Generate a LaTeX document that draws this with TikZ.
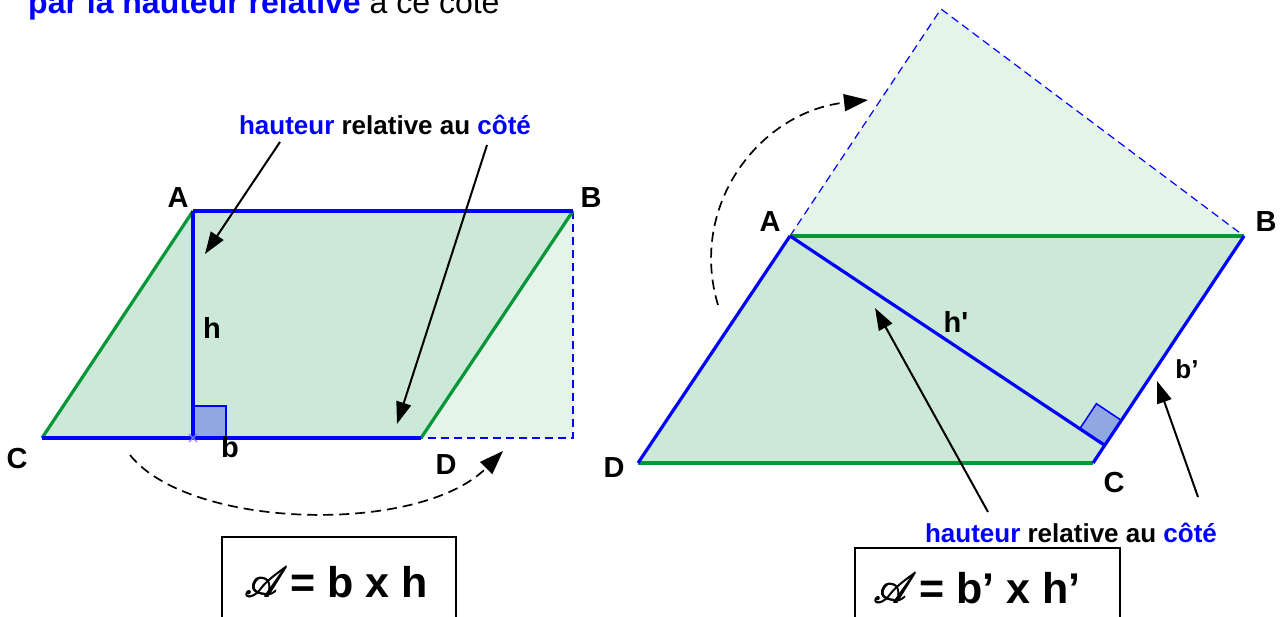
\documentclass[tikz,border=0pt]{standalone}
\usepackage{fontspec}
\setmainfont{Liberation Sans}
\usepackage{mathrsfs}
\usetikzlibrary{arrows.meta,calc}
\definecolor{pblue}{RGB}{0,0,255}
\definecolor{pgreen}{RGB}{5,150,55}
\definecolor{fillmid}{RGB}{204,232,215}
\definecolor{filllight}{RGB}{228,244,233}
\definecolor{sqfill}{RGB}{145,167,226}
\definecolor{xmark}{RGB}{130,130,255}
\newcommand{\scrA}{\scalebox{1.7}{\rlap{$\mathscr{A}$}\raisebox{0.25pt}{\rlap{$\mathscr{A}$}}\kern0.3pt\rlap{$\mathscr{A}$}\raisebox{0.25pt}{$\mathscr{A}$}}}
\tikzset{
 lab/.style={font=\fontsize{29}{34}\selectfont\bfseries, anchor=base, inner sep=0pt},
 hrtext/.style={font=\fontsize{26}{30}\selectfont\bfseries, anchor=base, inner sep=0pt},
 bluethick/.style={draw=pblue, line width=3.2pt},
 greenthick/.style={draw=pgreen, line width=3.2pt},
 dashblue/.style={draw=pblue, line width=1.2pt, dash pattern=on 8pt off 5pt},
 pointer/.style={draw=black, line width=2pt, -{Triangle[length=22pt,width=15pt]}},
 curvearrow/.style={draw=black, line width=1.7pt, dash pattern=on 10pt off 6pt, -{Triangle[length=24pt,width=17pt]}},
 formbox/.style={draw=black, line width=1.5pt},
 formula/.style={font=\fontsize{43}{50}\selectfont\bfseries, anchor=base west, inner sep=0pt},
 sq/.style={fill=sqfill, draw=pblue, line width=1.5pt},
}
\begin{document}
\begin{tikzpicture}[x=1pt,y=-1pt]
\useasboundingbox (0,0) rectangle (1286,617);
\fill[white] (0,0) rectangle (1286,617);

% top text (cut at the top edge, as in the reference)
\node[anchor=base west, inner sep=0pt, font=\fontsize{32}{36}\selectfont] (toptext) at (28,14)
  {\textcolor{pblue}{\bfseries par la hauteur relative} à ce côté};

% ---------- left figure ----------
\coordinate (lA) at (193,211);
\coordinate (lB) at (573,211);
\coordinate (lC) at (42,438);
\coordinate (lD) at (421,438);
\coordinate (lE) at (573,438);
\coordinate (lH) at (193,438);

\fill[filllight] (lB) -- (lE) -- (lD) -- cycle;
\fill[fillmid] (lA) -- (lB) -- (lD) -- (lC) -- cycle;
\draw[sq] (193,406) rectangle (226,438);
\draw[dashblue] (lB) -- (lE) -- (lD);
\draw[greenthick] (lC) -- (lA);
\draw[greenthick] (lD) -- (lB);
\draw[bluethick] (lA) -- (lB);
\draw[bluethick] (lC) -- (lD);
\draw[bluethick] (lA) -- (lH);
\draw[xmark, line width=1.2pt] (189,434) -- (197,442) (189,442) -- (197,434);

\node[lab] (labA) at (178,208) {A};
\node[lab] (labB) at (591,208) {B};
\node[lab] (labC) at (17,469) {C};
\node[lab] (labD) at (446,475) {D};
\node[lab] (labh) at (212,339) {h};
\node[lab] (labb) at (230,458) {b};

\node[hrtext] (hr1) at (385,135)
  {\textcolor{pblue}{hauteur} relative au \textcolor{pblue}{côté}};
\coordinate (p1s) at (280,142);
\coordinate (p1e) at (205,254);
\coordinate (p2s) at (487,145);
\coordinate (p2e) at (397,424);
\draw[pointer] (p1s) -- (p1e);
\draw[pointer] (p2s) -- (p2e);

\coordinate (c1s) at (130,455);
\coordinate (c1e) at (503,451);
\draw[curvearrow] (c1s) .. controls (190,530) and (420,535) .. (c1e);

\draw[formbox] (222,537) rectangle (456,625);
\node[formula] (f1) at (244,597) {\scrA\kern2pt= b x h};

% ---------- right figure ----------
\coordinate (rA) at (790,236);
\coordinate (rB) at (1244,236);
\coordinate (rC) at (1093,463);
\coordinate (rD) at (638,463);
\coordinate (rT) at ($(rA)+(rB)-(rC)$);
\coordinate (rH) at ($(rB)!(rA)!(rC)$);
\coordinate (rHA) at ($(rH)!30pt!(rA)$);
\coordinate (rHB) at ($(rH)!30pt!(rB)$);
\coordinate (rHQ) at ($(rHA)+(rHB)-(rH)$);

\fill[filllight] (rA) -- (rT) -- (rB) -- cycle;
\fill[fillmid] (rA) -- (rB) -- (rC) -- (rD) -- cycle;
\draw[sq] (rH) -- (rHA) -- (rHQ) -- (rHB) -- cycle;
\draw[dashblue] (rA) -- (rT) -- (rB);
\draw[greenthick] (rA) -- (rB);
\draw[greenthick] (rD) -- (rC);
\draw[bluethick] (rA) -- (rD);
\draw[bluethick] (rB) -- (rC);
\draw[bluethick] (rA) -- (rH);

\node[lab] (rlabA) at (770,232) {A};
\node[lab] (rlabB) at (1266,232) {B};
\node[lab] (rlabD) at (614,478) {D};
\node[lab] (rlabC) at (1114,493) {C};
\node[lab] (rlabh) at (956,333) {h\textquotesingle};
\node[lab, font=\fontsize{26}{30}\selectfont\bfseries] (rlabb) at (1187,379) {b’};

\node[hrtext] (hr2) at (1071,543)
  {\textcolor{pblue}{hauteur} relative au \textcolor{pblue}{côté}};
\coordinate (q1s) at (988,512);
\coordinate (q1e) at (875,308);
\coordinate (q2s) at (1198,497);
\coordinate (q2e) at (1157,381);
\draw[pointer] (q1s) -- (q1e);
\draw[pointer] (q2s) -- (q2e);

\coordinate (c2s) at (718,305);
\coordinate (c2e) at (868,100);
\draw[curvearrow] (c2s) .. controls (688,205) and (760,112) .. (c2e);

\draw[formbox] (855,548) rectangle (1120,625);
\node[formula] (f2) at (873,603) {\scrA\kern2pt= b’ x h’};
\end{tikzpicture}
\end{document}
